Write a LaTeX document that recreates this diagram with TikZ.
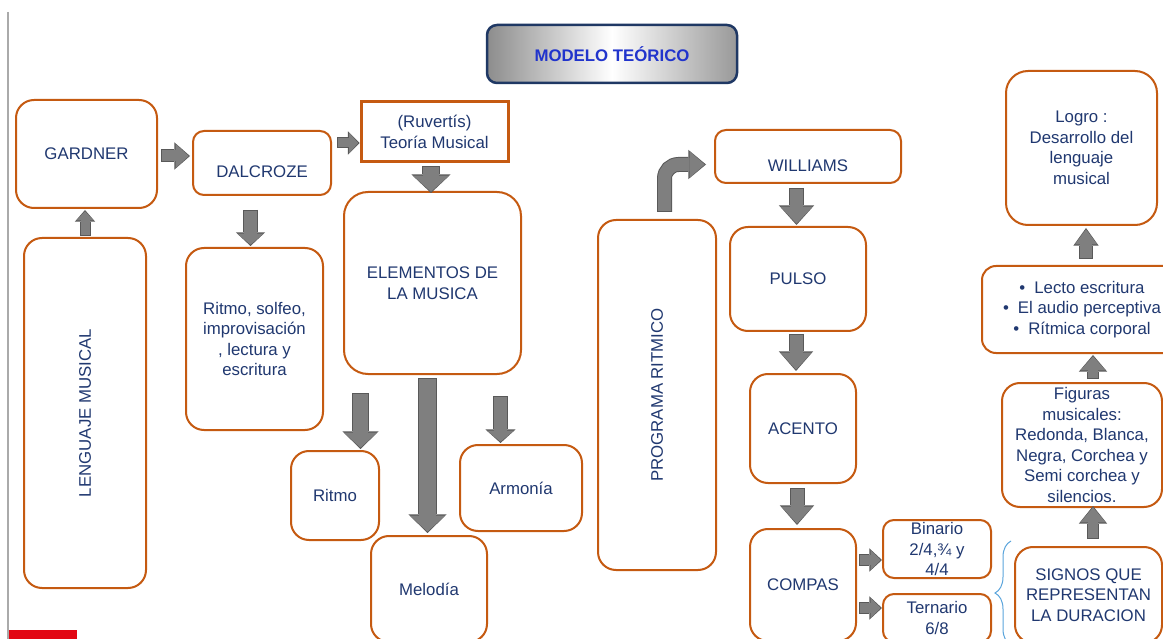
\documentclass[tikz,border=0pt]{standalone}
\usepackage{fontspec}
\setmainfont{Liberation Sans}
\usepackage{tikz}
\usetikzlibrary{arrows.meta,calc,decorations.pathreplacing}

\definecolor{naranja}{RGB}{197,90,17}
\definecolor{textoazul}{RGB}{32,56,112}
\definecolor{tituloazul}{RGB}{33,52,204}
\definecolor{bordetitulo}{RGB}{31,56,100}
\definecolor{grismed}{RGB}{127,127,127}
\definecolor{grisosc}{RGB}{89,89,89}
\definecolor{azulllave}{RGB}{91,165,220}
\definecolor{rojobarra}{RGB}{226,6,19}
\definecolor{lineagris}{RGB}{170,170,170}

% flecha de bloque: [opciones]{grosor}{ancho punta}{largo punta}{camino}
\newcommand{\flecha}[5][]{%
  \pgfmathsetmacro\flS{#2+2}\pgfmathsetmacro\flW{#3+3.2}\pgfmathsetmacro\flL{#4+2.6}%
  \draw[#1,draw=grisosc,line width=\flS pt,-{Triangle[length=\flL pt,width=\flW pt,line width=0pt]}] #5;
  \draw[#1,draw=grismed,line width=#2pt,shorten <=1pt,shorten >=1.3pt,-{Triangle[length=#4pt,width=#3pt,line width=0pt]}] #5;}

\begin{document}
\begin{tikzpicture}[x=1pt,y=-1pt,every node/.style={font=\fontsize{16.8}{20.5}\selectfont,text=textoazul,align=center,inner sep=0pt},
	caja/.style={draw=naranja,line width=2pt,rounded corners=18pt,fill=white},
	chica/.style={rounded corners=11pt},
	tam/.style 2 args={minimum width=#1pt,minimum height=#2pt},
	bajo/.style={text height=31pt,text depth=1pt}]
	\useasboundingbox (0,0) rectangle (1163,639);
	\clip (0,0) rectangle (1163,639);
	\fill[white] (0,0) rectangle (1163,639);
	\draw[lineagris,line width=2pt] (8,12) -- (8,639);
	\fill[rojobarra] (9,630) rectangle (77,639);

	\node[tam={250}{58},draw=bordetitulo,line width=2.5pt,rounded corners=10pt,left color=black!45,right color=black!40,middle color=white,text=tituloazul,font=\fontsize{16.8}{20.5}\selectfont\bfseries] (modelo) at (612,54) {MODELO TEÓRICO};

	\node[caja,tam={141}{108}] (gardner) at (86.5,154) {GARDNER};
	\node[caja,chica,bajo,tam={138}{64}] (dalcroze) at (262,163) {DALCROZE};
	\node[caja,rounded corners=0pt,line width=3pt,tam={147}{60}] (ruv) at (434.5,132) {(Ruvertís)\\Teoría Musical};
	\node[caja,tam={122}{350}] (lenguaje) at (85,413) {\rotatebox{90}{LENGUAJE MUSICAL}};
	\node[caja,tam={137}{182}] (solfeo) at (254.5,339) {Ritmo, solfeo,\\improvisación\\, lectura y\\escritura};
	\node[caja,rounded corners=24pt,tam={177}{182}] (elem) at (432.5,283) {ELEMENTOS DE\\LA MUSICA};
	\node[caja,tam={88}{89}] (ritmo) at (335,495.5) {Ritmo};
	\node[caja,tam={116}{106}] (melodia) at (429,589) {Melodía};
	\node[caja,tam={122}{86}] (armonia) at (521,488) {Armonía};

	\node[caja,tam={118}{350}] (prog) at (657,395) {\rotatebox{90}{PROGRAMA RITMICO}};
	\node[caja,chica,bajo,tam={186}{53}] (williams) at (808,156.5) {WILLIAMS};
	\node[caja,tam={136}{104}] (pulso) at (798,279) {PULSO};
	\node[caja,tam={106}{109}] (acento) at (803,428.5) {ACENTO};
	\node[caja,tam={106}{112}] (compas) at (803,585) {COMPAS};
	\node[caja,chica,tam={108}{58}] (binario) at (937,549) {Binario\\2/4,¾ y\\4/4};
	\node[caja,chica,tam={108}{48}] (ternario) at (937,618) {Ternario\\6/8};

	\node[caja,tam={147}{96}] (signos) at (1088.5,595) {SIGNOS QUE\\REPRESENTAN\\LA DURACION};
	\node[caja,tam={160}{124}] (figuras) at (1082,445) {Figuras\\musicales:\\Redonda, Blanca,\\Negra, Corchea y\\Semi corchea y\\silencios.};
	\node[caja,rounded corners=14pt,tam={200}{87}] (bullets) at (1082,309.5) {\textbullet\hspace{9pt}Lecto escritura\\\textbullet\hspace{9pt}El audio perceptiva\\\textbullet\hspace{9pt}Rítmica corporal};
	\node[caja,rounded corners=22pt,tam={151}{154}] (logro) at (1081.5,148) {Logro :\\Desarrollo del\\lenguaje\\musical};

	\draw[azulllave,line width=1pt,decorate,decoration={brace,amplitude=16pt}] (1011,645) -- (1011,541);

	\flecha{11}{24}{13}{($(gardner.east)+(3,2)$) -- ($(gardner.east -| dalcroze.west)+(-2,2)$)}
	\flecha{9}{17}{9}{($(lenguaje.north)+(0,-1)$) -- ($(lenguaje.north |- gardner.south)+(0,1)$)}
	\flecha{9}{20}{9}{($(ruv.west -| dalcroze.east)+(5,11)$) -- ($(ruv.west)+(0,11)$)}
	\flecha{13}{26}{11}{($(dalcroze.south -| solfeo.north)+(-4,14)$) -- ($(solfeo.north)+(-4,-1)$)}
	\flecha{16}{36}{16}{($(ruv.south)+(-3.5,3)$) -- ($(elem.north)+(-1.5,2)$)}
	\flecha{15}{33}{15}{($(ritmo.north |- elem.south)+(25.5,18)$) -- ($(ritmo.north)+(25.5,-1)$)}
	\flecha{17}{35}{16}{($(elem.south -| melodia.north)+(-1.5,3)$) -- ($(melodia.north)+(-1.5,-2)$)}
	\flecha{13}{27}{11}{($(armonia.north |- elem.south)+(-20.5,21)$) -- ($(armonia.north)+(-20.5,-1)$)}
	\flecha[rounded corners=14pt]{13}{26}{15}{($(prog.north)+(7.5,-7)$) |- ($(williams.west)+(-8,8)$)}
	\flecha{13}{32}{17}{($(williams.south -| pulso.north)+(-1.5,4)$) -- ($(pulso.north)+(-1.5,-1)$)}
	\flecha{13}{31}{17}{($(pulso.south)+(-2,2)$) -- ($(pulso.south |- acento.north)+(-2,-2)$)}
	\flecha{13}{31}{17}{($(acento.south)+(-6,4)$) -- ($(compas.north)+(-6,-3)$)}
	\flecha{10}{20}{10}{($(binario.west -| compas.east)+(2,11)$) -- ($(binario.west)+(0,11)$)}
	\flecha{10}{20}{10}{($(ternario.west -| compas.east)+(2,-10)$) -- ($(ternario.west)+(0,-10)$)}
	\flecha{10}{25}{15}{($(signos.north)+(4.5,-7)$) -- ($(signos.north |- figuras.south)+(4.5,-2)$)}
	\flecha{10}{25}{14}{($(figuras.north)+(11,-3)$) -- ($(figuras.north |- bullets.south)+(11,1)$)}
	\flecha{12}{22}{15}{($(bullets.north)+(4,-6)$) -- ($(bullets.north |- logro.south)+(4,2)$)}
\end{tikzpicture}
\end{document}
